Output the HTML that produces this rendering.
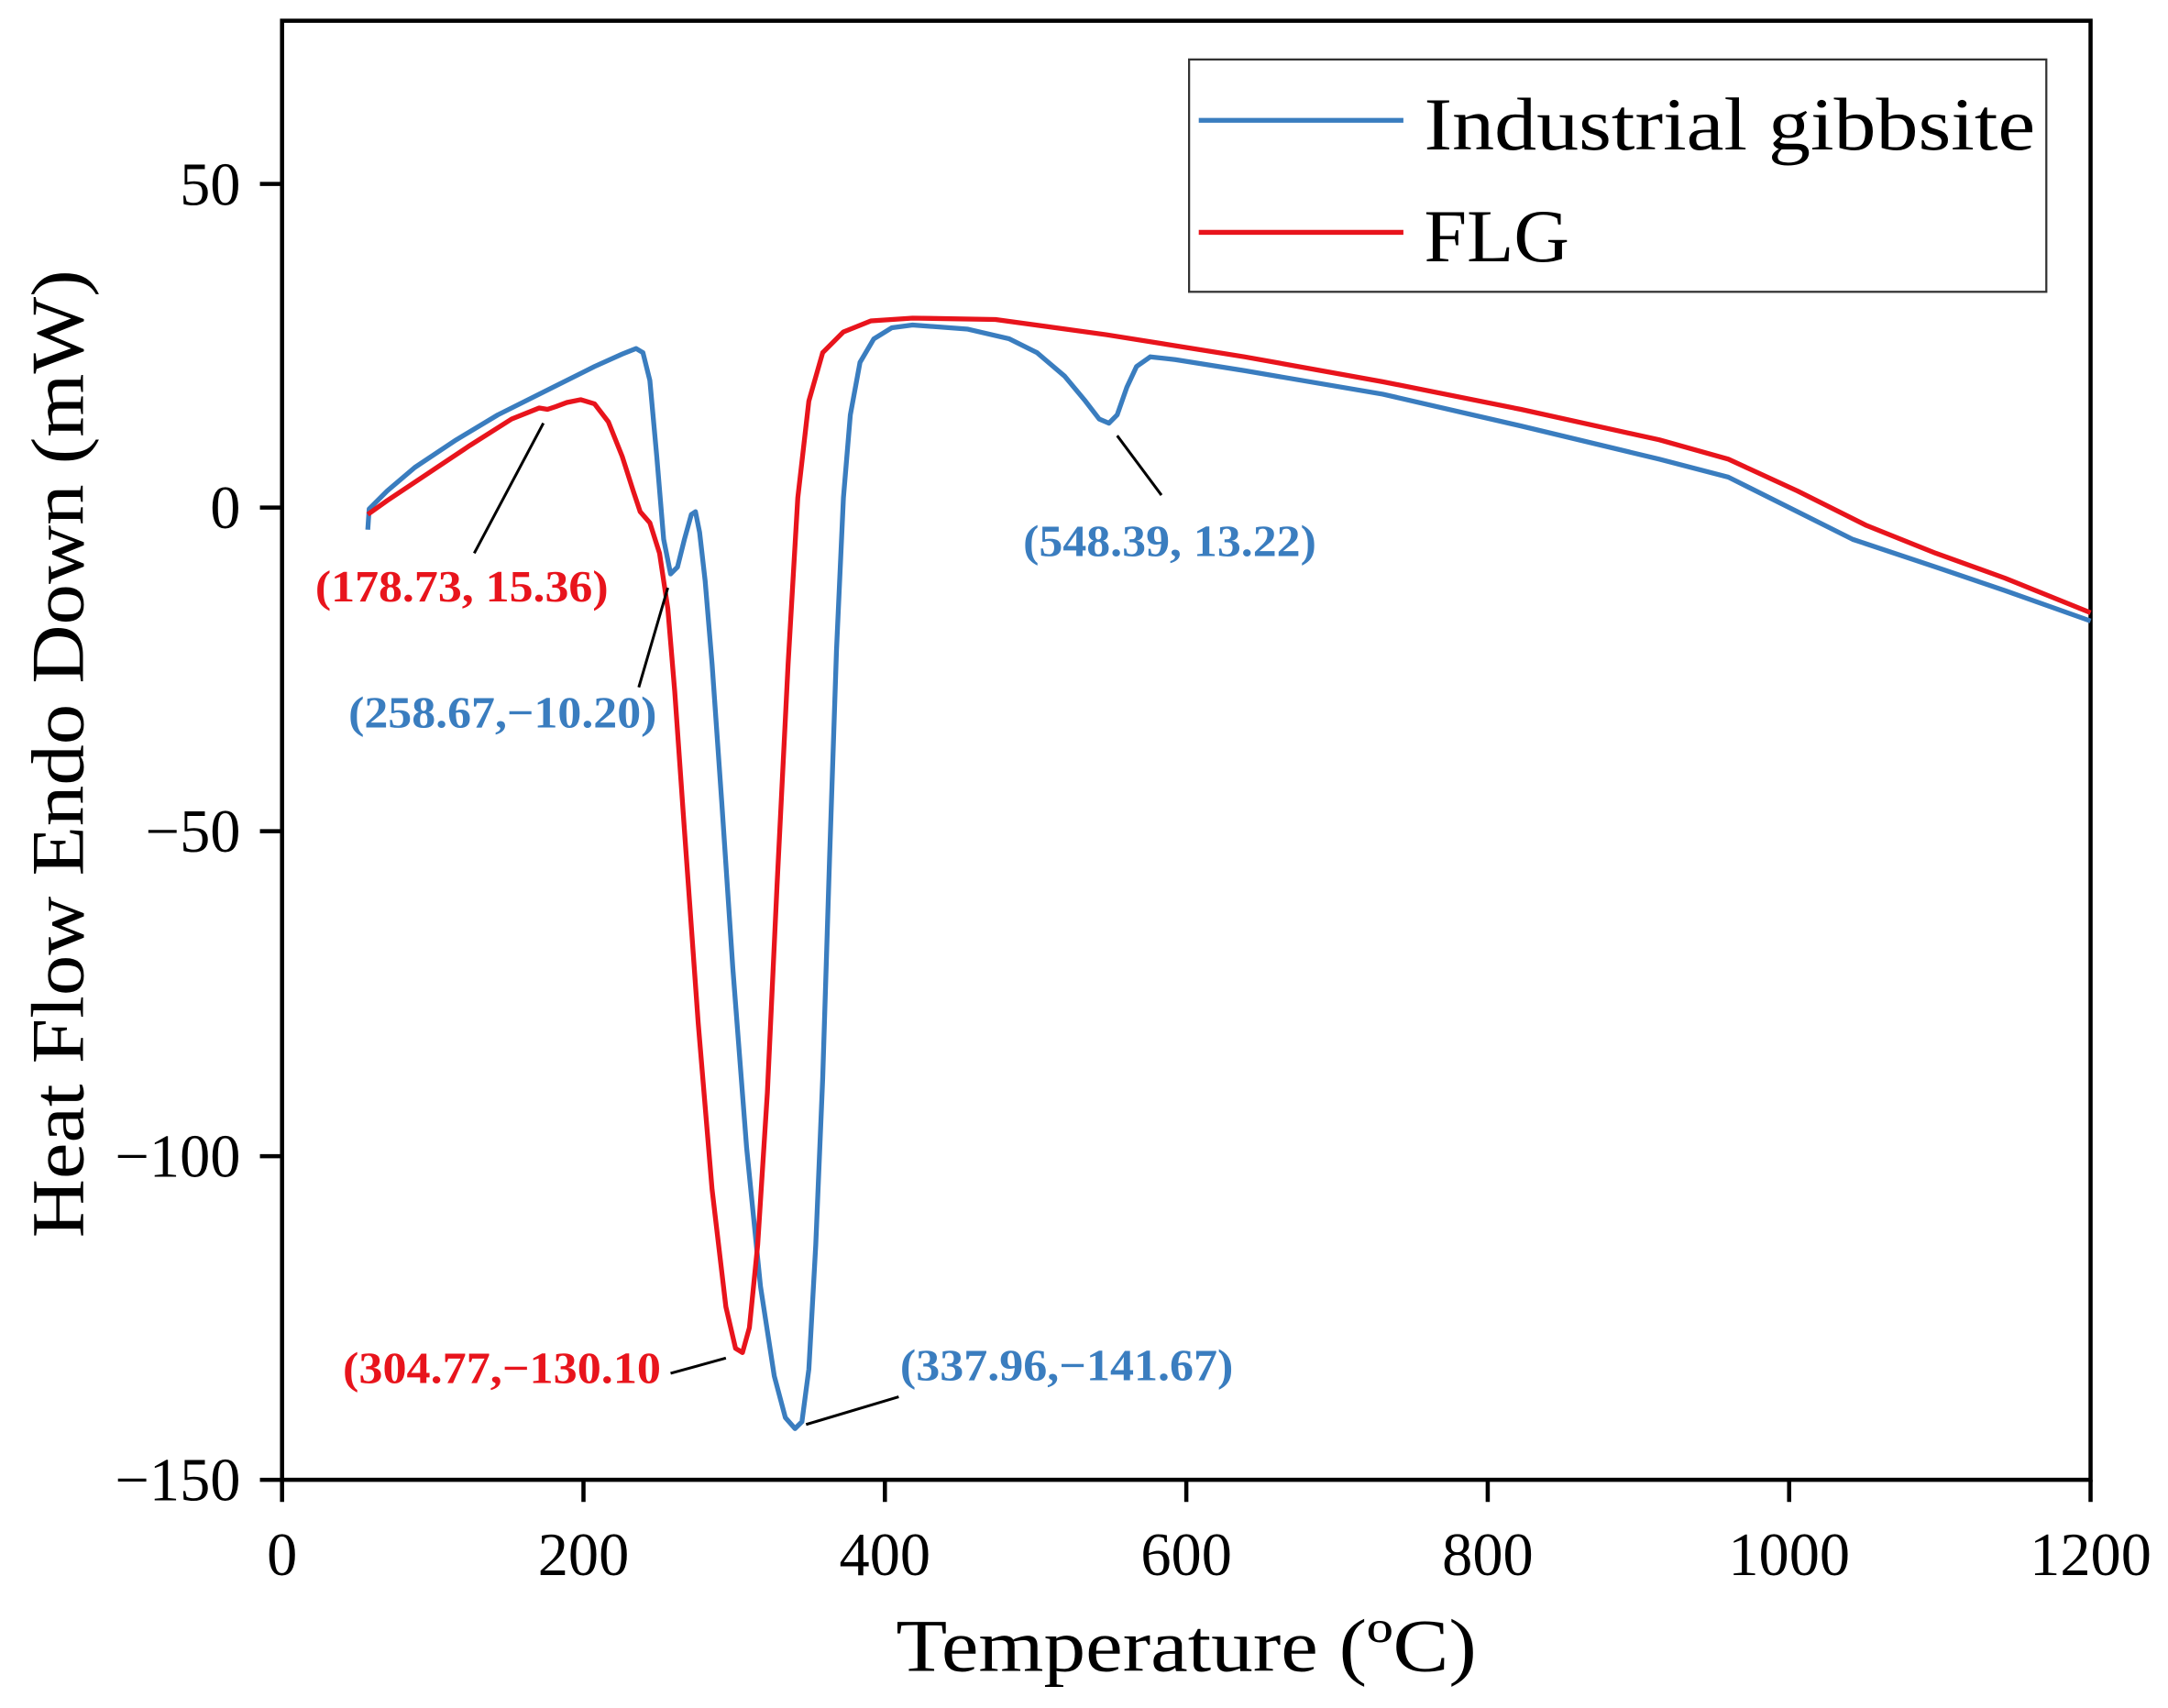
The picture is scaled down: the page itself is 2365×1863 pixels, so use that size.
<!DOCTYPE html>
<html><head><meta charset="utf-8"><style>html,body{margin:0;padding:0;background:#fff}svg{display:block}</style></head>
<body>
<svg width="2365" height="1863" viewBox="0 0 1568 1235" preserveAspectRatio="none" xmlns="http://www.w3.org/2000/svg" font-family="'Liberation Serif', serif">
<rect x="0" y="0" width="1568" height="1235" fill="#fff"/>
<rect x="204" y="15" width="1308" height="1055" fill="none" stroke="#000" stroke-width="3"/>
<g stroke="#000" stroke-width="3">
<line x1="204" y1="1070" x2="204" y2="1086"/><line x1="422" y1="1070" x2="422" y2="1086"/><line x1="640" y1="1070" x2="640" y2="1086"/><line x1="858" y1="1070" x2="858" y2="1086"/><line x1="1076" y1="1070" x2="1076" y2="1086"/><line x1="1294" y1="1070" x2="1294" y2="1086"/><line x1="1512" y1="1070" x2="1512" y2="1086"/>
<line x1="188" y1="133" x2="204" y2="133"/><line x1="188" y1="367" x2="204" y2="367"/><line x1="188" y1="601" x2="204" y2="601"/><line x1="188" y1="836" x2="204" y2="836"/><line x1="188" y1="1070" x2="204" y2="1070"/>
</g>
<g font-size="44" text-anchor="middle" fill="#000">
<text x="204" y="1139">0</text><text x="422" y="1139">200</text><text x="640" y="1139">400</text><text x="858" y="1139">600</text><text x="1076" y="1139">800</text><text x="1294" y="1139">1000</text><text x="1512" y="1139">1200</text>
</g>
<g font-size="44" text-anchor="end" fill="#000">
<text x="174" y="148">50</text><text x="174" y="382">0</text><text x="174" y="616">−50</text><text x="174" y="851">−100</text><text x="174" y="1085">−150</text>
</g>
<text x="648" y="1208" font-size="54" textLength="420" lengthAdjust="spacingAndGlyphs">Temperature (ºC)</text>
<text transform="translate(60,545) rotate(-90)" font-size="54" text-anchor="middle" textLength="700" lengthAdjust="spacingAndGlyphs">Heat Flow Endo Down (mW)</text>
<rect x="860" y="43" width="620" height="168" fill="#fff" stroke="#333" stroke-width="1.5"/>
<line x1="867" y1="87" x2="1015" y2="87" stroke="#3a7dbf" stroke-width="3.5"/>
<line x1="867" y1="168" x2="1015" y2="168" stroke="#e8141c" stroke-width="3.5"/>
<text x="1030" y="108" font-size="54" textLength="442" lengthAdjust="spacingAndGlyphs">Industrial gibbsite</text>
<text x="1030" y="189" font-size="54" textLength="105" lengthAdjust="spacingAndGlyphs">FLG</text>
<polyline fill="none" stroke="#3a7dbf" stroke-width="3.5" stroke-linejoin="round" points="266,383 267,368 280,355 300,338 330,318 360,300 400,280 430,265 450,256 460,252 465,255 470,275 475,330 480,390 485,415 490,410 495,390 500,372 503,370 506,385 510,420 515,480 522,580 530,700 540,830 550,930 560,995 568,1025 575,1033 580,1028 585,990 590,900 595,780 600,620 605,470 610,360 615,300 622,262 632,245 645,237 660,235 700,238 730,245 750,255 770,272 785,290 795,303 802,306 808,300 815,280 822,265 832,258 850,260 900,268 1000,285 1100,308 1200,332 1250,345 1300,370 1340,390 1400,410 1450,427 1512,449"/>
<polyline fill="none" stroke="#e8141c" stroke-width="3.5" stroke-linejoin="round" points="266,372 280,362 310,342 340,322 370,303 390,295 396,296 402,294 410,291 420,289 430,292 440,305 450,330 458,355 463,370 470,378 477,400 483,440 488,500 495,600 505,740 515,860 525,945 532,975 537,978 542,960 548,900 555,790 562,640 570,480 577,360 585,290 595,255 610,240 630,232 660,230 720,231 800,242 900,258 1000,276 1100,296 1200,318 1250,332 1300,355 1350,380 1400,400 1450,418 1512,443"/>
<g stroke="#000" stroke-width="2">
<line x1="343" y1="400" x2="393" y2="306"/>
<line x1="462" y1="497" x2="483" y2="425"/>
<line x1="808" y1="315" x2="840" y2="358"/>
<line x1="485" y1="993" x2="525" y2="982"/>
<line x1="583" y1="1030" x2="650" y2="1010"/>
</g>
<g font-size="32" font-weight="bold" lengthAdjust="spacingAndGlyphs">
<text x="228" y="435" fill="#e8141c" textLength="212" lengthAdjust="spacingAndGlyphs">(178.73, 15.36)</text>
<text x="252" y="526" fill="#3a7dbf" textLength="223" lengthAdjust="spacingAndGlyphs">(258.67,−10.20)</text>
<text x="740" y="402" fill="#3a7dbf" textLength="212" lengthAdjust="spacingAndGlyphs">(548.39, 13.22)</text>
<text x="248" y="1000" fill="#e8141c" textLength="230" lengthAdjust="spacingAndGlyphs">(304.77,−130.10</text>
<text x="651" y="998" fill="#3a7dbf" textLength="241" lengthAdjust="spacingAndGlyphs">(337.96,−141.67)</text>
</g>
</svg>
</body></html>
